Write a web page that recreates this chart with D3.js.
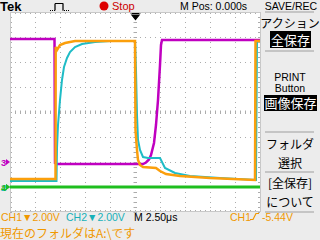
<!DOCTYPE html>
<html>
<head>
<meta charset="utf-8">
<script src="https://cdn.jsdelivr.net/npm/d3@7"></script>
<style>
  body { margin: 0; background: #ececec; }
  svg text { font-family: "Liberation Sans", Arial, sans-serif; }
  svg text.jp { font-family: "Noto Sans CJK JP", sans-serif; }
</style>
</head>
<body>
<div id="scope"></div>
<script>
// time in microseconds, levels in screen divisions
var ch1Time = [-12.5, -7.95, -7.93, -7.8, -7.5, -7.0, -6.0, 0.0, 0.05, 0.2, 0.3, 0.5, 0.8, 2.1, 2.5, 3.1, 4.5, 7.5, 12.0, 12.05, 12.5];
var ch1Div  = [-2.68, -2.68, 2.6, 2.48, 2.68, 2.76, 2.84, 2.84, -0.72, -1.52, -1.92, -2.12, -2.2, -2.24, -2.36, -2.48, -2.56, -2.64, -2.72, 2.84, 2.84];

var ch2Time = [-12.5, -7.85, -7.8, -7.7, -7.5, -7.3, -7.1, -6.8, -6.5, -6.0, -5.3, -4.0, -2.5, 0.0, 0.1, 0.2, 0.3, 0.5, 0.8, 1.3, 2.5, 2.7, 3.0, 4.0, 5.5, 8.5, 12.1, 12.2, 12.5];
var ch2Div  = [-2.76, -2.76, -1.44, -0.52, 0.48, 1.28, 1.8, 2.16, 2.4, 2.6, 2.72, 2.8, 2.84, 2.84, 1.68, -0.12, -1.12, -1.52, -1.8, -1.84, -1.84, -2.0, -2.24, -2.44, -2.56, -2.64, -2.72, 2.84, 2.84];

var ch3Time = [-12.5, -8.05, -8.0, -7.8, 0.8, 1.1, 1.4, 1.6, 1.9, 2.1, 2.3, 2.5, 2.6, 2.7, 12.5];
var ch3Div  = [2.92, 2.92, -2.04, -2.08, -2.08, -2.02, -1.9, -1.72, -1.24, -0.52, 0.48, 1.88, 2.68, 2.88, 2.88];

var ch4Time = [-12.5, -6.0, 0.0, 6.0, 12.5];
var ch4Div  = [-3.0, -3.0, -3.0, -3.0, -3.0];

var channelNames  = ['1', '2', '3', '4'];
var channelColors = ['#fb9f0c', '#1fbcc6', '#c000c0', '#1ebe1e'];
var groundDiv     = [-3.0, -3.0, -2.0, -3.0];

var bottomLabels = ['CH1\u25BC2.00V', 'CH2\u25BC2.00V', 'M 2.50\u03BCs'];
var menuLabels = ['\u30A2\u30AF\u30B7\u30E7\u30F3', 'PRINT', 'Button', '\u30D5\u30A9\u30EB\u30C0', '\u9078\u629E', '[\u5168\u4FDD\u5B58]', '\u306B\u3064\u3044\u3066'];

var svg = d3.select('#scope').append('svg')
            .attr('width', 320)
            .attr('height', 240);

var x = d3.scaleLinear().domain([-12.5, 12.5]).range([10, 260]);
var y = d3.scaleLinear().domain([-4, 4]).range([212, 12]);

// graticule
svg.append('rect')
   .attr('x', 10).attr('y', 12)
   .attr('width', 251).attr('height', 200)
   .attr('fill', '#ffffff');

var grid = svg.append('g').attr('stroke', '#acacac').attr('stroke-width', 1);
var xDivs = d3.range(-10, 12.5, 2.5).filter(function(d) { return d !== 0; });
var yDivs = d3.range(-3, 4, 1).filter(function(d) { return d !== 0; });

grid.selectAll('line.vx')
    .data(xDivs).enter().append('line')
      .attr('x1', function(d) { return x(d) + 0.5; })
      .attr('x2', function(d) { return x(d) + 0.5; })
      .attr('y1', 12).attr('y2', 212)
      .attr('stroke-dasharray', '1 4');

grid.selectAll('line.hy')
    .data(yDivs).enter().append('line')
      .attr('y1', function(d) { return y(d) + 0.5; })
      .attr('y2', function(d) { return y(d) + 0.5; })
      .attr('x1', 10).attr('x2', 260)
      .attr('stroke-dasharray', '1 4');

var minorX = d3.range(-12.5, 12.51, 0.5);
var minorY = d3.range(-4, 4.01, 0.2);

grid.selectAll('line.cx')
    .data(minorX).enter().append('line')
      .attr('x1', function(d) { return x(d) + 0.5; })
      .attr('x2', function(d) { return x(d) + 0.5; })
      .attr('y1', y(0) - 1.5).attr('y2', y(0) + 2);
grid.selectAll('line.cy')
    .data(minorY).enter().append('line')
      .attr('y1', function(d) { return y(d) + 0.5; })
      .attr('y2', function(d) { return y(d) + 0.5; })
      .attr('x1', x(0) - 1.5).attr('x2', x(0) + 2);

// edge ticks
grid.selectAll('line.ex')
    .data(minorX).enter().append('line')
      .attr('x1', function(d) { return x(d) + 0.5; })
      .attr('x2', function(d) { return x(d) + 0.5; })
      .attr('y1', 12).attr('y2', 14);
grid.selectAll('line.ex2')
    .data(minorX).enter().append('line')
      .attr('x1', function(d) { return x(d) + 0.5; })
      .attr('x2', function(d) { return x(d) + 0.5; })
      .attr('y1', 210).attr('y2', 212);
grid.selectAll('line.ey')
    .data(minorY).enter().append('line')
      .attr('y1', function(d) { return y(d) + 0.5; })
      .attr('y2', function(d) { return y(d) + 0.5; })
      .attr('x1', 10).attr('x2', 12);
grid.selectAll('line.ey2')
    .data(minorY).enter().append('line')
      .attr('y1', function(d) { return y(d) + 0.5; })
      .attr('y2', function(d) { return y(d) + 0.5; })
      .attr('x1', 258).attr('x2', 260);

svg.append('rect')
   .attr('x', 10.5).attr('y', 12.5)
   .attr('width', 250).attr('height', 199)
   .attr('fill', 'none')
   .attr('stroke', '#c8c8c8');

// traces
var line = d3.line()
             .x(function(d) { return x(d[0]); })
             .y(function(d) { return y(d[1]); });

var traces = [
  { pts: d3.zip(ch4Time, ch4Div), color: channelColors[3], w: 3 },
  { pts: d3.zip(ch3Time, ch3Div), color: channelColors[2], w: 2.5 },
  { pts: d3.zip(ch2Time, ch2Div), color: channelColors[1], w: 2 },
  { pts: d3.zip(ch1Time, ch1Div), color: channelColors[0], w: 2.5 }
];

svg.selectAll('path.trace')
   .data(traces).enter().append('path')
     .attr('class', 'trace')
     .attr('d', function(d) { return line(d.pts); })
     .attr('fill', 'none')
     .attr('stroke', function(d) { return d.color; })
     .attr('stroke-width', function(d) { return d.w; })
     .attr('stroke-linejoin', 'miter');

// ground markers on the left
var markers = svg.selectAll('g.marker')
   .data([0, 1, 3, 2]).enter().append('g')
     .attr('transform', function(i) { return 'translate(1,' + y(groundDiv[i]) + ')'; });
markers.append('text')
     .attr('x', 0).attr('y', 4)
     .attr('font-size', 9.5).attr('font-weight', 'bold')
     .attr('fill', function(i) { return channelColors[i]; })
     .text(function(i) { return channelNames[i]; });
markers.append('path')
     .attr('d', 'M5,-3L9,0L5,3Z')
     .attr('fill', function(i) { return channelColors[i]; });

// trigger position marker
svg.append('path')
   .attr('d', 'M131.5,13.5H139.5M132,15H139L135.5,19.5Z')
   .attr('stroke', '#000').attr('stroke-width', 1.2).attr('fill', '#000');

// top bar
svg.append('text').attr('x', 0).attr('y', 11)
   .attr('font-family', '"DejaVu Serif", serif')
   .attr('font-weight', 'bold').attr('font-size', 13)
   .attr('fill', '#000').text('Tek');

svg.append('path')
   .attr('d', 'M50,10.5H55V3.5H63V10.5H69')
   .attr('fill', 'none').attr('stroke', '#000').attr('stroke-width', 1)
   .attr('stroke-dasharray', '1 1');
svg.append('path')
   .attr('d', 'M55,10.5V3.5H63V10.5')
   .attr('fill', 'none').attr('stroke', '#000').attr('stroke-width', 1);

svg.append('circle').attr('cx', 104).attr('cy', 6).attr('r', 4.5).attr('fill', '#dd0000');
svg.append('text').attr('x', 112).attr('y', 10)
   .attr('font-size', 11).attr('fill', '#cc0000').text('Stop');

svg.append('text').attr('x', 180).attr('y', 10)
   .attr('font-size', 10.5).attr('fill', '#000').text('M Pos: 0.000s');

svg.append('text').attr('x', 291).attr('y', 10)
   .attr('text-anchor', 'middle')
   .attr('font-size', 10.5).attr('fill', '#000').text('SAVE/REC');

// right menu
svg.selectAll('line.sep')
   .data([12, 51, 132, 172, 212]).enter().append('line')
     .attr('x1', 265).attr('x2', 314)
     .attr('y1', function(d) { return d; })
     .attr('y2', function(d) { return d; })
     .attr('stroke', '#b8b8b8').attr('stroke-width', 1.5);

var menuY = [28, 81, 92, 149, 168, 188, 207];
svg.selectAll('text.menu')
   .data(menuLabels).enter().append('text')
     .attr('class', function(d, i) { return (i === 1 || i === 2) ? 'menu' : 'menu jp'; })
     .attr('x', 290)
     .attr('y', function(d, i) { return menuY[i]; })
     .attr('text-anchor', 'middle')
     .attr('font-size', function(d, i) { return (i === 1 || i === 2) ? 10.5 : 12; })
     .attr('fill', '#000')
     .text(function(d) { return d; });

var boxes = [
  { label: '\u5168\u4FDD\u5B58', x: 270, y: 31, w: 41, h: 17 },
  { label: '\u753B\u50CF\u4FDD\u5B58', x: 264, y: 95, w: 53, h: 16 }
];
svg.selectAll('rect.box')
   .data(boxes).enter().append('rect')
     .attr('x', function(d) { return d.x; })
     .attr('y', function(d) { return d.y; })
     .attr('width', function(d) { return d.w; })
     .attr('height', function(d) { return d.h; })
     .attr('fill', '#000');
svg.selectAll('text.box')
   .data(boxes).enter().append('text')
     .attr('class', 'jp')
     .attr('x', function(d) { return d.x + d.w / 2; })
     .attr('y', function(d) { return d.y + d.h - 3; })
     .attr('text-anchor', 'middle')
     .attr('font-size', 13)
     .attr('fill', '#fff')
     .text(function(d) { return d.label; });

// bottom readouts
var bottomX = [1, 66, 134];
var bottomColors = ['#f09800', '#17b0b8', '#000'];
svg.selectAll('text.readout')
   .data(bottomLabels).enter().append('text')
     .attr('x', function(d, i) { return bottomX[i]; })
     .attr('y', 221)
     .attr('font-size', 10.5)
     .attr('fill', function(d, i) { return bottomColors[i]; })
     .text(function(d) { return d; });

svg.append('text').attr('x', 230).attr('y', 221)
   .attr('font-size', 10.5).attr('fill', '#f09800').text('CH1');
svg.append('path')
   .attr('d', 'M250,219.5H253L256,213.5H259')
   .attr('fill', 'none').attr('stroke', '#f09800').attr('stroke-width', 1.2);
svg.append('text').attr('x', 262).attr('y', 221)
   .attr('font-size', 10.5).attr('fill', '#f09800').text('-5.44V');

svg.append('text').attr('class', 'jp')
   .attr('x', 0).attr('y', 238)
   .attr('font-size', 12).attr('fill', '#f09800')
   .text('\u73FE\u5728\u306E\u30D5\u30A9\u30EB\u30C0\u306FA:\\\u3067\u3059');
</script>
</body>
</html>
